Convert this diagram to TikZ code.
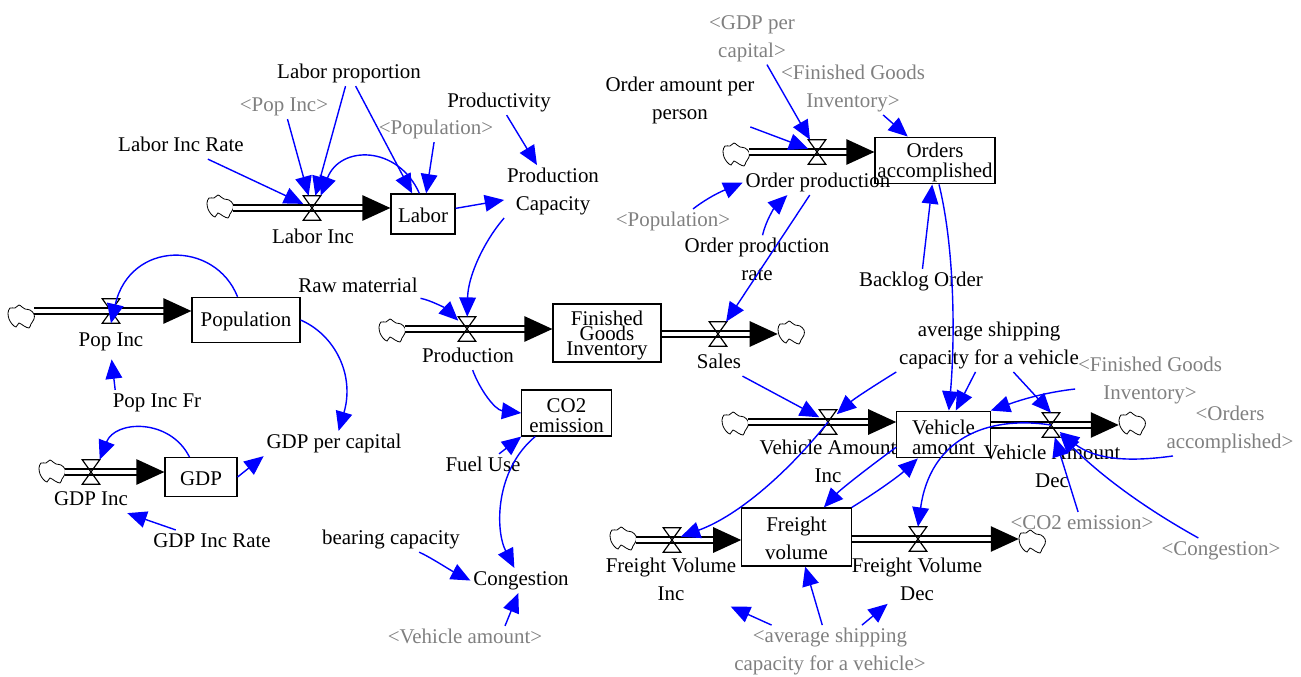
\documentclass[tikz,border=0pt]{standalone}
\usepackage{fontspec}
\setmainfont{Liberation Serif}
\usetikzlibrary{arrows.meta}
\definecolor{linkblue}{RGB}{0,0,255}
\definecolor{shadowgrey}{RGB}{128,128,128}
\newcommand{\fsA}{\fontsize{15.7pt}{21pt}\selectfont}
\newcommand{\fsB}{\fontsize{15.7pt}{15pt}\selectfont}
\newcommand{\fsC}{\fontsize{15.7pt}{11.25pt}\selectfont}
\newcommand{\topfillA}{\rule{0pt}{14.5pt}}
\newcommand{\topfillB}{\rule{0pt}{12.5pt}}
\tikzset{
  x=0.75pt,y=-0.75pt,
  lbl/.style={font=\fsA,align=center,inner sep=2pt,text=black,yshift=-1.9pt},
  one/.style={lbl,text height=11pt,text depth=3.5pt},
  ghost/.style={text=shadowgrey},
  stockbox/.style={draw=black,line width=0.9pt,align=center,inner sep=0pt,font=\fsA},
  valvebox/.style={inner sep=0pt,minimum width=12.75pt,minimum height=18pt},
  valveline/.style={draw=black,line width=0.9pt},
  sourcebox/.style={inner sep=0pt,minimum width=19.5pt,minimum height=17pt},
  sourceline/.style={draw=black,fill=white,line width=0.6pt},
  pipe/.style={line width=1.2pt,double=white,double distance=3.2pt,draw=black,
    -{Triangle[length=21pt,width=19pt,fill=black]}},
  link/.style={draw=linkblue,line width=1.05pt,-{Triangle[length=14.5pt,width=12.5pt,fill=linkblue]}},
}
\newcommand{\valvenode}[2]{%
  \node[valvebox] (#1) at (#2) {};
  \draw[valveline] (#1.north west) -- (#1.north east) -- (#1.south west) -- (#1.south east) -- cycle;
}
\newcommand{\cloudnode}[2]{%
  \node[sourcebox] (#1) at (#2) {};
  \begin{scope}[shift={(#1.center)}]
  \draw[sourceline] plot[smooth cycle,tension=0.55] coordinates {(-13,-4) (-11,-9) (-6,-9) (-2,-12) (1,-10) (4,-8) (9,-7) (13,-3) (13,2) (10,7) (8,11) (3,9) (-2,6) (-5,10) (-9,7) (-12,2)};
  \end{scope}
}
\begin{document}
\begin{tikzpicture}
\useasboundingbox (0,0) rectangle (1301,677);
% stocks
\node[stockbox,minimum width=48pt,minimum height=30pt] (labor) at (423,214) {\topfillB Labor};
\node[stockbox,minimum width=81pt,minimum height=34pt] (pop) at (246,320) {\topfillB Population};
\node[stockbox,minimum width=54pt,minimum height=29pt] (gdp) at (201,477) {\topfillB GDP};
\node[stockbox,minimum width=81pt,minimum height=43.5pt,font=\fsC] (fgi) at (607,333) {\topfillA Finished\\Goods\\Inventory};
\node[stockbox,minimum width=67pt,minimum height=34.5pt,font=\fsB] (co2) at (566.5,413) {\topfillA CO2\\emission};
\node[stockbox,minimum width=90pt,minimum height=35pt,font=\fsB] (orders) at (935,160.5) {\topfillA Orders\\accomplished};
\node[stockbox,minimum width=70pt,minimum height=35pt,font=\fsB] (vehicle) at (943.5,434.5) {\topfillA Vehicle\\amount};
\node[stockbox,minimum width=82pt,minimum height=43.5pt] (freight) at (796.5,537) {\topfillB Freight\\volume};
% clouds
\cloudnode{cLabor}{220,207}
\cloudnode{cPop}{21,317}
\cloudnode{cGdp}{52,472}
\cloudnode{cProd}{392,331}
\cloudnode{cSales}{791,333}
\cloudnode{cOrder}{736,155}
\cloudnode{cVai}{735,424}
\cloudnode{cVad}{1132,424}
\cloudnode{cFvi}{623,539}
\cloudnode{cFvd}{1032,542}
% pipes
\coordinate (pLabor) at (312,208);
\coordinate (pPop) at (111,311);
\coordinate (pGdp) at (91,472);
\coordinate (pProd) at (467,329);
\coordinate (pSales) at (718,334);
\coordinate (pOrder) at (817,152);
\coordinate (pVai) at (828,422);
\coordinate (pVad) at (1051,425);
\coordinate (pFvi) at (672,540);
\coordinate (pFvd) at (918,539);
\draw[pipe] (pLabor -| cLabor.east) -- (pLabor -| labor.west);
\draw[pipe] (pPop -| cPop.east) -- (pPop -| pop.west);
\draw[pipe] (pGdp -| cGdp.east) -- (pGdp -| gdp.west);
\draw[pipe] (pProd -| cProd.east) -- (pProd -| fgi.west);
\draw[pipe] (pSales -| fgi.east) -- (pSales -| cSales.west);
\draw[pipe] (pOrder -| cOrder.east) -- (pOrder -| orders.west);
\draw[pipe] (pVai -| cVai.east) -- (pVai -| vehicle.west);
\draw[pipe] (pVad -| vehicle.east) -- (pVad -| cVad.west);
\draw[pipe] (pFvi -| cFvi.east) -- (pFvi -| freight.west);
\draw[pipe] (pFvd -| freight.east) -- (pFvd -| cFvd.west);
% valves
\valvenode{vLabor}{pLabor}
\valvenode{vPop}{pPop}
\valvenode{vGdp}{pGdp}
\valvenode{vProd}{pProd}
\valvenode{vSales}{pSales}
\valvenode{vOrder}{pOrder}
\valvenode{vVai}{pVai}
\valvenode{vVad}{pVad}
\valvenode{vFvi}{pFvi}
\valvenode{vFvd}{pFvd}
% labels
\node[one] (lProp) at (349,71) {Labor proportion};
\node[one,ghost] (gPopInc) at (284,104) {<Pop Inc>};
\node[one] (lRate) at (181,144) {Labor Inc Rate};
\node[one,ghost] (gPopul) at (436,127) {<Population>};
\node[one] (prodty) at (499,100) {Productivity};
\node[lbl] (prodcap) at (553,189) {Production\\Capacity};
\node[one] (lInc) at (313,236) {Labor Inc};
\node[one] (raw) at (358,285) {Raw materrial};
\node[one] (popInc) at (111,339) {Pop Inc};
\node[one] (popFr) at (157,400) {Pop Inc Fr};
\node[one] (gpc) at (334,441) {GDP per capital};
\node[one] (gdpInc) at (91,498) {GDP Inc};
\node[one] (gdpRate) at (212,540) {GDP Inc Rate};
\node[one] (prodn) at (468,355) {Production};
\node[one] (fuel) at (483,464) {Fuel Use};
\node[one] (bearing) at (391,537) {bearing capacity};
\node[one] (cong) at (521,578) {Congestion};
\node[one,ghost] (gVeh) at (465,636) {<Vehicle amount>};
\node[lbl,ghost] (gGpc) at (752,36) {<GDP per\\capital>};
\node[lbl] (oap) at (680,98) {Order amount per\\person};
\node[lbl,ghost] (gFgiA) at (853,86) {<Finished Goods\\Inventory>};
\node[one] (oprod) at (818,180) {Order production};
\node[one,ghost] (gPopulB) at (673,219) {<Population>};
\node[lbl] (orate) at (757,257) {Order production\\rate};
\node[one] (backlog) at (921,279) {Backlog Order};
\node[lbl] (avg) at (989,343) {average shipping\\capacity for a vehicle};
\node[one] (sales) at (719,361) {Sales};
\node[lbl,ghost] (gFgiB) at (1150,378) {<Finished Goods\\Inventory>};
\node[lbl,ghost] (gOrd) at (1230,427) {<Orders\\accomplished>};
\node[lbl] (vaiL) at (828,459) {Vehicle Amount\\Inc};
\node[lbl] (vadL) at (1052,464) {Vehicle Amount\\Dec};
\node[one,ghost] (gCo2) at (1082,522) {<CO2 emission>};
\node[one,ghost] (gCong) at (1221,548) {<Congestion>};
\node[lbl] (fviL) at (671,577) {Freight Volume\\Inc};
\node[lbl] (fvdL) at (917,577) {Freight Volume\\Dec};
\node[lbl,ghost] (gAvg) at (830,649) {<average shipping\\capacity for a vehicle>};
% links
\draw[link] (lRate) -- (vLabor);
\draw[link] (gPopInc) -- (vLabor);
\draw[link] (lProp) -- (vLabor);
\draw[link] (lProp) -- (labor);
\draw[link] (labor.100) .. controls (398,145) and (340,145) .. (vLabor.north east);
\draw[link] (gPopul) -- (labor);
\draw[link] (labor) -- (prodcap);
\draw[link] (prodty) -- (prodcap);
\draw[link] (prodcap.south west) .. controls (485,240) and (468,275) .. (vProd);
\draw[link] (raw) .. controls (430,300) and (445,308) .. (vProd);
\draw[link] (pop.110) .. controls (215,240) and (130,240) .. (vPop.south);
\draw[link,shorten >=4pt] ([xshift=4pt]popFr.north west) -- (popInc.south);
\draw[link] (pop.east) .. controls (335,335) and (355,375) .. (gpc.70);
\draw[link] (gdp.120) .. controls (170,418) and (115,420) .. (vGdp.north east);
\draw[link] (gdp.east) -- (gpc.south west);
\draw[link] (gdpRate) -- (gdpInc);
\draw[link] (prodn) .. controls (480,390) and (495,410) .. (co2.west);
\draw[link] ([xshift=12pt]fuel.north) -- (co2.south west);
\draw[link] (co2.217) .. controls (495,470) and (495,530) .. ([xshift=-5pt]cong.north);
\draw[link] (bearing) .. controls (430,557) and (450,570) .. (cong.west);
\draw[link] ([xshift=30pt]gVeh.north) -- ([xshift=-2pt]cong.south);
\draw[link] (gGpc) -- (vOrder);
\draw[link] (oap) -- (vOrder);
\draw[link] (gFgiA) -- (orders);
\draw[link] ([xshift=15pt]gPopulB.north) .. controls (715,192) and (735,186) .. (oprod.west);
\draw[link] (orate) .. controls (766,220) and (775,207) .. ([xshift=-23pt]oprod.south);
\draw[link] (oprod) -- (vSales);
\draw[link] (backlog) -- (orders);
\draw[link] ([xshift=3pt]orders.south) .. controls (955,250) and (955,340) .. ([xshift=4pt]vehicle.north);
\draw[link] (sales) -- (vVai);
\draw[link] (avg.south west) .. controls (880,382) and (855,398) .. (vVai);
\draw[link] (avg) -- (vehicle);
\draw[link] (avg) -- (vVad.north);
\draw[link] (gFgiB) .. controls (1040,393) and (1015,402) .. (vehicle.north east);
\draw[link] (vVad.center) .. controls (985,415) and (930,440) .. (vFvd.north);
\draw[link] ([xshift=7pt]gOrd.south west) .. controls (1130,462) and (1095,460) .. (vVad);
\draw[link] (gCo2) -- (vVad);
\draw[link] (gCong) .. controls (1130,500) and (1090,465) .. (vVad);
\draw[link] (vehicle.195) .. controls (865,470) and (840,490) .. (freight);
\draw[link] (freight.north east) .. controls (880,490) and (900,475) .. (vehicle);
\draw[link] (vVai.center) .. controls (790,470) and (740,515) .. (vFvi);
\draw[link] (gAvg) -- (freight);
\draw[link,shorten >=5pt] (gAvg) -- (fviL);
\draw[link] (gAvg) -- (fvdL);
\end{tikzpicture}
\end{document}
